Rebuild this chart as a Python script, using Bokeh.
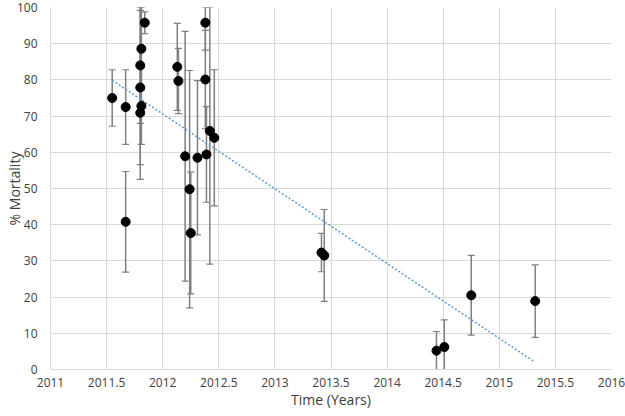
import numpy as np
from bokeh.plotting import figure
from bokeh.models import ColumnDataSource, Whisker, TeeHead, FixedTicker
from bokeh.embed import file_html
from bokeh.resources import INLINE

# ---- data ----
time_years = [2011.55, 2011.67, 2011.67, 2011.80, 2011.81, 2011.80, 2011.80, 2011.81, 2011.84,
              2012.13, 2012.14, 2012.20, 2012.24, 2012.25, 2012.31, 2012.38, 2012.38, 2012.39,
              2012.42, 2012.46, 2013.415, 2013.44, 2014.44, 2014.51, 2014.75, 2015.32]
mortality = [75.0, 72.5, 40.8, 70.9, 72.8, 77.9, 84.0, 88.6, 95.8,
             83.6, 79.7, 58.9, 49.8, 37.7, 58.5, 95.8, 80.1, 59.4,
             65.9, 64.0, 32.3, 31.5, 5.2, 6.2, 20.5, 18.9]
error = [7.8, 10.3, 13.9, 18.4, 10.6, 21.3, 16.0, 11.4, 3.0,
         12.0, 9.0, 34.5, 32.8, 16.8, 21.3, 7.6, 13.6, 13.2,
         36.8, 18.8, 5.3, 12.7, 5.3, 7.5, 11.0, 10.0]
trend_x = [2011.55, 2015.31]
trend_y = [79.9, 2.2]
x_ticks = [2011, 2011.5, 2012, 2012.5, 2013, 2013.5, 2014, 2014.5, 2015, 2015.5, 2016]
x_tick_labels = ["2011", "2011.5", "2012", "2012.5", "2013", "2013.5", "2014", "2014.5",
                 "2015", "2015.5", "2016"]
y_ticks = [0, 10, 20, 30, 40, 50, 60, 70, 80, 90, 100]

FONT = "Open Sans"
TXT = "#404040"
GRID = "#d9d9d9"

y = np.array(mortality)
e = np.array(error)
src = ColumnDataSource(dict(
    x=time_years, y=mortality,
    upper=np.minimum(y + e, 100), lower=np.maximum(y - e, 0),
))

p = figure(width=625, height=416, output_backend="svg", toolbar_location=None,
           x_range=(2011, 2016), y_range=(0, 100),
           min_border_left=50, min_border_right=14, min_border_top=7, min_border_bottom=47)
p.margin = (0, 0, 0, 0)
p.outline_line_color = None
p.background_fill_color = "white"
p.border_fill_color = "white"

# grids
p.xgrid.ticker = FixedTicker(ticks=x_ticks)
p.ygrid.ticker = FixedTicker(ticks=y_ticks)
for g in (p.xgrid, p.ygrid):
    g.grid_line_color = GRID
    g.grid_line_width = 1

# axes
p.xaxis.ticker = FixedTicker(ticks=x_ticks)
p.xaxis.major_label_overrides = {t: l for t, l in zip(x_ticks, x_tick_labels)}
p.yaxis.ticker = FixedTicker(ticks=y_ticks)
for ax in (p.xaxis, p.yaxis):
    ax.axis_line_color = GRID
    ax.major_tick_line_color = None
    ax.minor_tick_line_color = None
    ax.major_label_text_font = FONT
    ax.major_label_text_font_size = "12px"
    ax.major_label_text_color = TXT
    ax.axis_label_text_font = FONT
    ax.axis_label_text_font_size = "14px"
    ax.axis_label_text_font_style = "normal"
    ax.axis_label_text_color = TXT
p.xaxis.axis_label = "Time (Years)"
p.yaxis.axis_label = "% Mortality"
p.xaxis.major_label_standoff = 2
p.xaxis.axis_label_standoff = 0
p.yaxis.major_label_standoff = 7
p.yaxis.axis_label_standoff = -10

# error bars
w = Whisker(source=src, base="x", upper="upper", lower="lower", dimension="height",
            line_color="#7f7f7f", line_width=1.5,
            upper_head=TeeHead(size=7, line_color="#7f7f7f", line_width=1.2),
            lower_head=TeeHead(size=7, line_color="#7f7f7f", line_width=1.2))
p.add_layout(w)

# trend line
p.line(trend_x, trend_y, line_color="#5b9bd5", line_width=1.5, line_dash="2 2")

# points
p.scatter("x", "y", source=src, size=9, fill_color="black", line_color="black")

open("out.html", "w").write(file_html(p, INLINE))
